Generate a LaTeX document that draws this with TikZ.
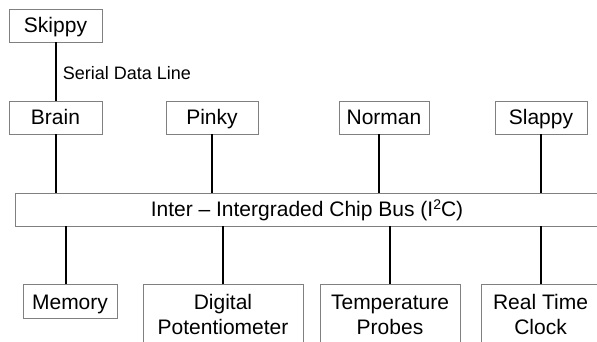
\documentclass[tikz,border=0pt]{standalone}
\usepackage{fontspec}
\setmainfont{Liberation Sans}
\usetikzlibrary{positioning}

\begin{document}
\begin{tikzpicture}[x=1pt,y=-1pt]
  \tikzstyle{Box}=[draw=black!50,fill=white,line width=0.8pt,inner sep=0pt,
                   align=center,font=\fontsize{21}{25}\selectfont]
  \tikzstyle{OneLine}=[Box,text height=17.5pt,text depth=3.5pt]
  \tikzstyle{Wire}=[line width=2pt,black]
  \useasboundingbox (0,0) rectangle (597,341);
  % controllers
  \node[OneLine,minimum width=93,minimum height=33] (Skippy) at (55.5,25.5) {Skippy};
  \node[OneLine,minimum width=93,minimum height=33] (Brain)  at (55.5,117.5) {Brain};
  \node[OneLine,minimum width=92,minimum height=33] (Pinky)  at (212,117.5) {Pinky};
  \node[OneLine,minimum width=90,minimum height=33] (Norman) at (384,117.5) {Norman};
  \node[OneLine,minimum width=92,minimum height=33] (Slappy) at (541,117.5) {Slappy};
  % the bus
  \node[OneLine,minimum width=584,minimum height=33] (Bus) at (307,209.5)
    {Inter -- Intergraded Chip Bus (I\raisebox{0.35em}{\fontsize{14}{14}\selectfont 2}C)};
  % devices
  \node[OneLine,text height=19pt,text depth=2pt,minimum width=94,minimum height=34]
    (Memory) at (70,301) {Memory};
  \node[Box,minimum width=160,minimum height=61] (Pot) at (223,314.5)
    {Digital\\Potentiometer};
  \node[Box,minimum width=140,minimum height=61] (Temp) at (390,314.5)
    {Temperature\\Probes};
  \node[Box,minimum width=119,minimum height=61] (Clock) at (540.5,314.5)
    {Real Time\\Clock};
  % wires
  \draw[Wire] (Skippy) -- node[right,xshift=3pt,yshift=-2pt,
    font=\fontsize{18}{20}\selectfont] (Serial) {Serial Data Line} (Brain);
  \draw[Wire] (Brain.south) -- (Brain.south |- Bus.north);
  \draw[Wire] (Pinky.south) -- (Pinky.south |- Bus.north);
  \draw[Wire] ([xshift=-5pt]Norman.south) -- ([xshift=-5pt]Norman.south |- Bus.north);
  \draw[Wire] (Slappy.south) -- (Slappy.south |- Bus.north);
  \draw[Wire] ([xshift=-4pt]Memory.north |- Bus.south) -- ([xshift=-4pt]Memory.north);
  \draw[Wire] (Pot.north |- Bus.south) -- (Pot.north);
  \draw[Wire] (Temp.north |- Bus.south) -- (Temp.north);
  \draw[Wire] (Clock.north |- Bus.south) -- (Clock.north);
\end{tikzpicture}
\end{document}
